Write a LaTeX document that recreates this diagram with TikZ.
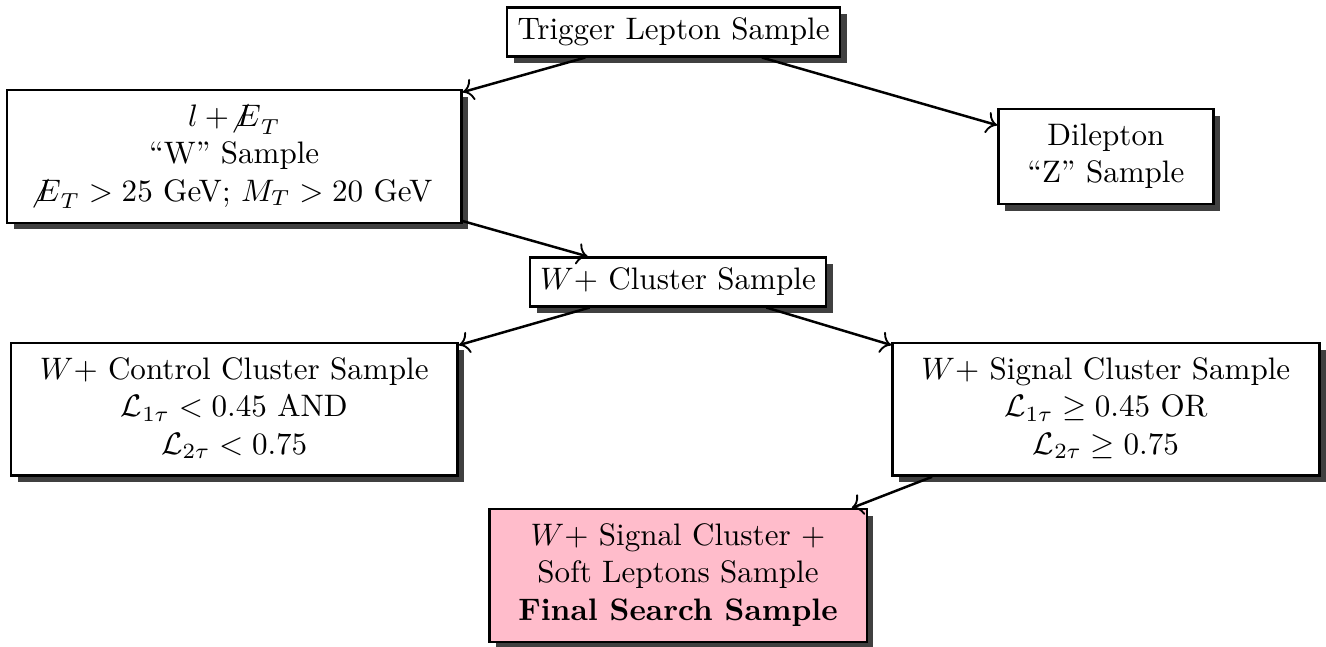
\documentclass[tikz,border=0pt]{standalone}
\usepackage{amsmath, amssymb}
\usetikzlibrary{positioning, arrows.meta, shadows}
\definecolor{Shade}{HTML}{404040}
\definecolor{FinalPink}{HTML}{FFBCCB}
\newcommand{\metsym}{\mathord{\mkern-4mu\not\mathrel{\mkern4mu E}}}
\tikzset{
    samplebox/.style={rectangle, draw=black, thick, fill=white, align=center,
        drop shadow={opacity=1, fill=Shade}},
    finalbox/.style={samplebox, fill=FinalPink},
    arrow/.style={-{To[line width=0.6pt]}, thick, color=black},
}

\begin{document}
\begin{tikzpicture}
    \useasboundingbox (-7.62,-6.95) rectangle (7.38,0.36);

    % Ausgangsdaten
    \node[samplebox] (trig) at (0,0) {Trigger Lepton Sample};

    % W- und Z-Auswahl
    \node[samplebox] (wsample) at (-4.97,-1.41) {\begin{tabular}{c}
        $l + \metsym_T$\\
        ``W'' Sample\\
        $\metsym_T > 25$ GeV; $M_T > 20$ GeV
    \end{tabular}};
    \node[samplebox] (zsample) at (4.89,-1.41) {\begin{tabular}{c}
        Dilepton\\
        ``Z'' Sample
    \end{tabular}};

    % Cluster
    \node[samplebox] (cluster) at (0.05,-2.83) {$W+$ Cluster Sample};

    \node[samplebox] (control) at (-4.97,-4.27) {\begin{tabular}{c}
        $W+$ Control Cluster Sample\\
        $\mathcal{L}_{1\tau} < 0.45$ AND\\
        $\mathcal{L}_{2\tau} < 0.75$
    \end{tabular}};
    \node[samplebox] (signal) at (4.89,-4.27) {\begin{tabular}{c}
        $W+$ Signal Cluster Sample\\
        $\mathcal{L}_{1\tau} \geq 0.45$ OR\\
        $\mathcal{L}_{2\tau} \geq 0.75$
    \end{tabular}};

    % Endauswahl
    \node[finalbox] (final) at (0.05,-6.15) {\begin{tabular}{c}
        $W+$ Signal Cluster $+$\\
        Soft Leptons Sample\\
        \textbf{Final Search Sample}
    \end{tabular}};

    % Pfeile
    \draw[arrow] ([xshift=-1cm]trig.south) -- (wsample);
    \draw[arrow] ([xshift=1cm]trig.south) -- (zsample);
    \draw[arrow] (wsample) -- (cluster);
    \draw[arrow] ([xshift=-1cm]cluster.south) -- (control);
    \draw[arrow] ([xshift=1cm]cluster.south) -- (signal);
    \draw[arrow] (signal) -- (final);
\end{tikzpicture}
\end{document}
